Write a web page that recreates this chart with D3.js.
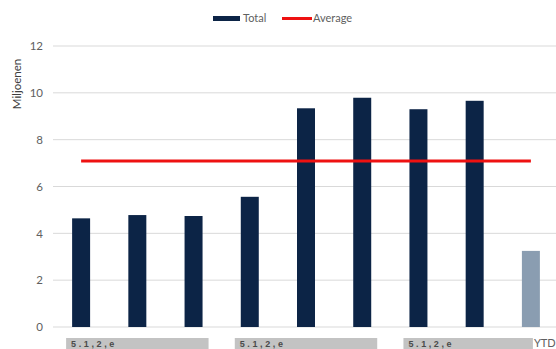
<!DOCTYPE html>
<html>
<head>
<meta charset="utf-8">
<script src="https://cdn.jsdelivr.net/npm/d3@7"></script>
<style>
  body { margin: 0; background: #fff; }
  text { font-family: Lato, "Open Sans", sans-serif; }
</style>
</head>
<body>
<script>
// categories (labels are mostly redacted in the source, only YTD is readable)
var categories = ['c1', 'c2', 'c3', 'c4', 'c5', 'c6', 'c7', 'c8', 'YTD']
var totals = [4.64, 4.78, 4.74, 5.56, 9.34, 9.79, 9.30, 9.66, 3.25]
var average = [7.09, 7.09, 7.09, 7.09, 7.09, 7.09, 7.09, 7.09, 7.09]
var yTicks = [0, 2, 4, 6, 8, 10, 12]
// redaction boxes over the x labels: [first category, last category]
var redactions = [['c1', 'c3'], ['c4', 'c6'], ['c7', 'YTD']]
var redactText = '5.1,2,e'

var width = 556, height = 349

var svg = d3.select('body').append('svg')
    .attr('width', width)
    .attr('height', height)

var x = d3.scaleBand()
    .domain(categories)
    .range([53, 559])
    .paddingInner(0.68)
    .paddingOuter(0.34)

var y = d3.scaleLinear()
    .domain([0, 12])
    .range([327, 46])

var cx = function(c){ return x(c) + x.bandwidth() / 2 }

// gridlines
svg.append('g')
    .selectAll('line')
    .data(yTicks)
    .join('line')
    .attr('x1', 53).attr('x2', width)
    .attr('y1', d => y(d)).attr('y2', d => y(d))
    .attr('stroke', '#d9d9d9')
    .attr('stroke-width', 1)

// y axis labels
var yAxis = svg.append('g')
    .attr('transform', 'translate(49,0)')
    .call(d3.axisLeft(y).tickValues(yTicks).tickSize(0).tickPadding(6))
yAxis.select('.domain').remove()
yAxis.selectAll('text')
    .attr('fill', '#606060')
    .style('font-size', '11.5px')
    .style('font-family', 'Lato, "Open Sans", sans-serif')

svg.append('text')
    .attr('transform', 'translate(21,84) rotate(-90)')
    .attr('text-anchor', 'middle')
    .attr('fill', '#404040')
    .style('font-size', '11.5px')
    .text('Miljoenen')

// bars
svg.append('g')
    .selectAll('rect')
    .data(categories)
    .join('rect')
    .attr('x', d => x(d))
    .attr('width', x.bandwidth())
    .attr('y', (d, i) => y(totals[i]))
    .attr('height', (d, i) => y(0) - y(totals[i]))
    .attr('fill', d => d == 'YTD' ? '#8a9db1' : '#0c2446')

// average line
var line = d3.line()
    .x(d => cx(d[0]))
    .y(d => y(d[1]))

svg.append('path')
    .datum(categories.map((c, i) => [c, average[i]]))
    .attr('d', line)
    .attr('fill', 'none')
    .attr('stroke', '#ee1111')
    .attr('stroke-width', 3)

// redacted x labels
var red = svg.append('g')
redactions.forEach(function(r, i){
    var x0 = cx(r[0]) - 15
    var x1 = r[1] == 'YTD' ? cx(r[1]) + 2 : cx(r[1]) + 15
    red.append('rect')
        .attr('x', x0).attr('y', 338)
        .attr('width', x1 - x0).attr('height', 12)
        .attr('fill', '#c3c3c3')
    red.append('text')
        .attr('x', x0 + 5).attr('y', 347)
        .attr('fill', '#4a4a4a')
        .style('font-size', '9px')
        .style('font-weight', 'bold')
        .style('font-family', '"Liberation Sans", Arial, sans-serif')
        .style('letter-spacing', '2.6px')
        .text(redactText)
})

svg.append('text')
    .attr('x', cx('YTD') + 3).attr('y', 347)
    .attr('fill', '#606060')
    .style('font-size', '11px')
    .text('YTD')

// legend
var legend = svg.append('g')
legend.append('rect')
    .attr('x', 213).attr('y', 16)
    .attr('width', 27).attr('height', 5)
    .attr('fill', '#0c2446')
legend.append('text')
    .attr('x', 243).attr('y', 22)
    .attr('fill', '#606060')
    .style('font-size', '11px')
    .text('Total')
legend.append('line')
    .attr('x1', 282).attr('x2', 312)
    .attr('y1', 18.5).attr('y2', 18.5)
    .attr('stroke', '#ee1111')
    .attr('stroke-width', 3)
legend.append('text')
    .attr('x', 313).attr('y', 22)
    .attr('fill', '#606060')
    .style('font-size', '11px')
    .text('Average')
</script>
</body>
</html>
